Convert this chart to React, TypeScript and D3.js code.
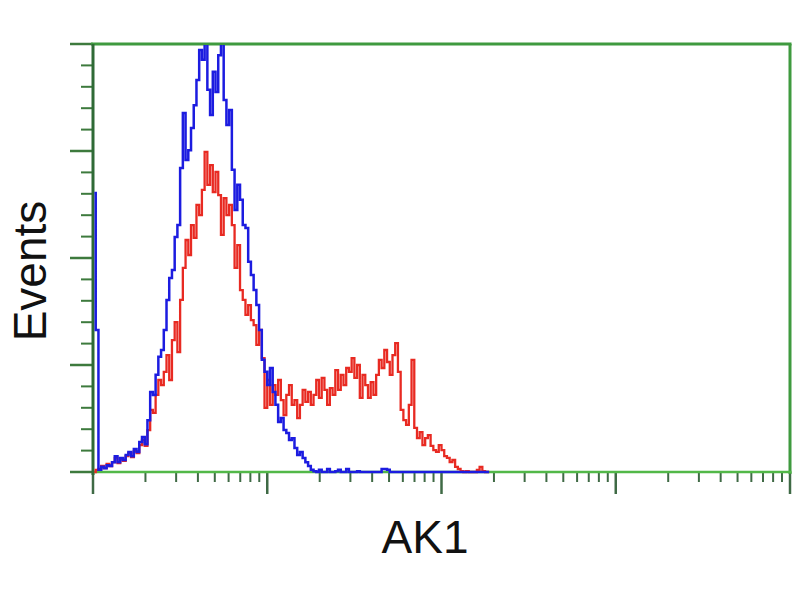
import React from "react";
import * as d3 from "d3";

// Histogram channels: 256 channels across 4 log decades (1 .. 10^4)
const blueCounts: number[] = [
  65.2, 33.2, 0.5, 1.2, 0.9, 1.6, 1.4, 2.3, 3.7, 2.3,
  3.3, 2.8, 4.0, 4.7, 3.7, 5.4, 4.7, 7.0, 8.2, 6.5,
  12.1, 18.7, 18.0, 22.7, 26.9, 28.5, 33.2, 40.2, 45.3, 47.2,
  54.9, 57.7, 71.0, 83.9, 72.9, 75.2, 80.4, 85.7, 91.6, 98.6,
  96.3, 104, 89.3, 83.4, 93.5, 88.8, 97.4, 102, 86.9, 81.1,
  84.6, 70.6, 61.2, 67.1, 63.6, 57.7, 57.0, 49.1, 46.0, 42.5,
  39.0, 33.2, 26.2, 23.4, 20.3, 24.3, 18.7, 15.7, 11.7, 12.6,
  9.8, 9.1, 7.5, 7.9, 5.6, 4.0, 4.7, 3.3, 2.3, 1.4,
  0.5, 0.2, 0, 0.5, 0, 0, 0.7, 0, 0, 0.2,
  0.5, 0, 0, 0.7, 0, 0, 0, 0.2, 0, 0,
  0, 0, 0, 0, 0, 0, 0.7, 0.7, 0.5, 0,
  0, 0, 0, 0, 0, 0, 0, 0, 0, 0,
  0, 0, 0, 0, 0, 0, 0, 0, 0, 0,
  0, 0, 0, 0, 0, 0, 0, 0, 0, 0,
  0, 0, 0, 0, 0, 0,
];

const redCounts: number[] = [
  0, 0.5, 0.7, 1.4, 0.9, 1.9, 1.4, 2.3, 3.3, 2.1,
  3.0, 2.6, 3.7, 4.4, 3.5, 4.9, 4.4, 6.3, 7.5, 6.1,
  9.8, 14.5, 13.8, 18.0, 21.5, 20.3, 23.4, 27.3, 21.5, 30.8,
  35.0, 28.0, 40.2, 47.7, 54.2, 50.7, 57.7, 54.7, 62.4, 60.0,
  65.9, 74.8, 67.1, 71.7, 65.4, 70.1, 64.7, 55.4, 64.0, 60.0,
  62.4, 57.7, 47.7, 53.0, 42.5, 40.2, 36.7, 39.0, 35.5, 34.3,
  29.7, 33.2, 26.6, 15.0, 21.5, 15.7, 20.3, 18.0, 21.5, 16.8,
  13.3, 18.0, 20.3, 15.7, 16.8, 12.6, 15.7, 19.2, 16.4, 18.7,
  15.7, 18.0, 21.5, 17.3, 22.0, 19.2, 15.7, 19.6, 18.0, 23.8,
  19.2, 22.7, 20.3, 24.3, 23.4, 26.6, 22.0, 25.0, 17.3, 22.7,
  20.3, 17.3, 21.0, 18.0, 22.7, 26.2, 24.3, 28.5, 25.7, 22.7,
  27.3, 30.1, 23.4, 14.5, 12.1, 11.0, 15.7, 26.2, 10.3, 7.9,
  9.3, 6.3, 7.9, 8.6, 6.1, 5.1, 4.7, 6.3, 5.1, 3.7,
  3.3, 2.3, 2.8, 1.2, 0.7, 0.2, 0, 0.2, 0, 0,
  0, 0.5, 1.2, 0.2, 0, 0,
];

const xMajorTicks: number[] = [1, 10, 100, 1000, 10000];
const xLabel = "AK1";
const yLabel = "Events";

const W = 800;
const H = 600;
const left = 93;
const right = 790;
const top = 44;
const bottom = 472;

export default function App() {
  const x = d3.scaleLog().domain([1, 10000]).range([left, right]);
  const y = d3.scaleLinear().domain([0, 100]).range([bottom, top]);

  const chValue = (ch: number) => Math.pow(10, (ch + 0.5) / 64);

  const line = d3
    .line<number>()
    .x((_, i) => x(chValue(i)))
    .y((d) => y(d))
    .curve(d3.curveStep);

  const yTicks = d3.range(0, 101, 5);
  const xMinor: number[] = [];
  xMajorTicks.slice(0, -1).forEach((m) => {
    for (let k = 2; k <= 9; k++) xMinor.push(m * k);
  });

  return (
    <svg
      width={W}
      height={H}
      style={{ position: "absolute", left: 0, top: 0, background: "#fff" }}
    >
      <defs>
        <clipPath id="plotclip">
          <rect x={left - 2} y={top + 1} width={right - left + 2} height={bottom - top + 2} />
        </clipPath>
      </defs>
      <rect x={0} y={0} width={W} height={H} fill="#fff" />

      {/* y ticks */}
      {yTicks.map((t) => {
        const major = t % 25 === 0;
        return (
          <line
            key={"yt" + t}
            x1={major ? left - 23 : left - 12}
            x2={left}
            y1={y(t)}
            y2={y(t)}
            stroke="#3d7a3d"
            strokeWidth={major ? 2.5 : 2}
          />
        );
      })}

      {/* x ticks */}
      {xMajorTicks.map((t) => (
        <line
          key={"xM" + t}
          x1={x(t)}
          x2={x(t)}
          y1={bottom}
          y2={bottom + 22}
          stroke="#3f6a45"
          strokeWidth={2.5}
        />
      ))}
      {xMinor.map((t) => (
        <line
          key={"xm" + t}
          x1={x(t)}
          x2={x(t)}
          y1={bottom}
          y2={bottom + 10}
          stroke="#3f6a45"
          strokeWidth={2}
        />
      ))}

      {/* frame */}
      <line x1={left - 2} x2={right + 1.5} y1={top} y2={top} stroke="#3f9a3f" strokeWidth={3} />
      <line x1={right} x2={right} y1={top} y2={bottom + 2} stroke="#3f9a3f" strokeWidth={3} />
      <line x1={left} x2={right + 1.5} y1={bottom} y2={bottom} stroke="#52b848" strokeWidth={2.5} />
      <line x1={left} x2={left} y1={top} y2={bottom + 3} stroke="#2f6a36" strokeWidth={3} />

      {/* data */}
      <g clipPath="url(#plotclip)">
        <path d={line(redCounts) || ""} fill="none" stroke="#e82a22" strokeWidth={2.3} />
        <path d={line(blueCounts) || ""} fill="none" stroke="#1c1ce0" strokeWidth={2.5} />
      </g>

      {/* labels */}
      <text
        x={425}
        y={553}
        textAnchor="middle"
        fontFamily="'Liberation Sans', Arial, sans-serif"
        fontSize={46}
        fill="#111"
      >
        {xLabel}
      </text>
      <text
        transform={`translate(46, 271) rotate(-90)`}
        textAnchor="middle"
        fontFamily="'Liberation Sans', Arial, sans-serif"
        fontSize={46}
        fill="#111"
      >
        {yLabel}
      </text>
    </svg>
  );
}
